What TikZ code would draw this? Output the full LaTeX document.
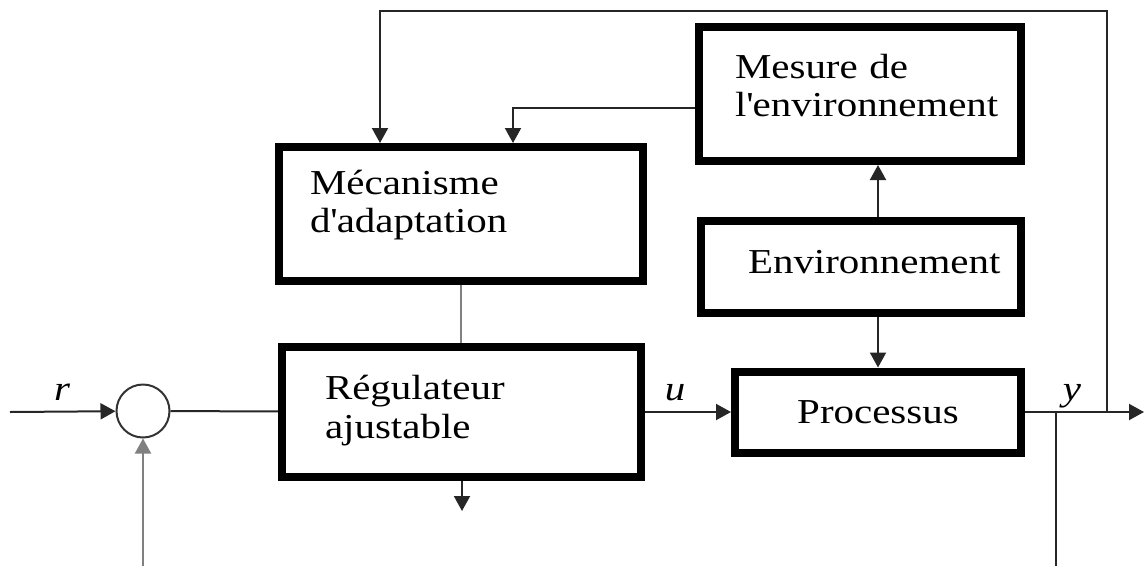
\documentclass[tikz,border=0pt]{standalone}
\usepackage{fontspec}
\setmainfont{Liberation Serif}[FakeStretch=1.17]
\usetikzlibrary{positioning,arrows.meta}
\tikzset {
    style block/.style={
        draw=black,
        line width=8pt,
        rectangle, % Set the shape as a rectangle
        align=left,
    },
    style sum/.style={
        draw=black!80,
        line width=2pt,
        circle, % Set the shape as a circle
        minimum size=53pt,
        inner sep=0pt,
    },
    style signal/.style={
        draw=black!85,
        line width=2pt,
    },
    style arrow/.style={
        style signal,
        -{Triangle[width=16pt,length=15pt]},
    },
    style label/.style={
        font=\fontsize{35}{37}\selectfont\itshape,
        anchor=base,
        inner sep=0pt,
    },
}
\begin{document}
\begin{tikzpicture}
        [x=1pt, y=-1pt, font=\fontsize{35}{37}\selectfont]
        \useasboundingbox (0,0) rectangle (1144,566);

        % blocks
        \node[style block, minimum width=364pt, minimum height=134pt, text width=302pt, inner xsep=31pt, text depth=63pt] (mec) at (461,214) {Mécanisme\\[1pt]d\textquotesingle adaptation};
        \node[style block, minimum width=322pt, minimum height=134pt, text width=250pt, inner xsep=36pt, text depth=56pt] (mes) at (860,94) {Mesure de\\[1pt]l\textquotesingle environnement};
        \node[style block, minimum width=320pt, minimum height=92pt, text width=226pt, inner xsep=47pt, text depth=10pt] (env) at (861,267) {Environnement};
        \node[style block, minimum width=359pt, minimum height=130pt, text width=273pt, inner xsep=43pt, text depth=49pt] (reg) at (461.5,412) {Régulateur\\[2pt]ajustable};
        \node[style block, minimum width=286pt, minimum height=81pt] (proc) at (878,412) {Processus};
        \node[style sum] (sum) at (143,411) {};

        % signals
        \node[style label] (r) at (62,400) {r};
        \node[style label] (u) at (675,400) {u};
        \node[style label] (y) at (1072,400) {y};

        \coordinate (in)   at (10,412);
        \coordinate (out)  at (1144,412);
        \coordinate (ybr)  at (1056,412);
        \coordinate (yup)  at (1107,412);
        \coordinate (tr)   at (1107,11);
        \coordinate (tl)   at (380,11);
        \coordinate (ml)   at (513,108);
        \coordinate (dn)   at (462,511);
        \coordinate (fbl)  at (143,566);
        \coordinate (fbr)  at (1056,566);

        \draw[style arrow] (in) -- (sum);
        \draw[style signal] (sum) -- (reg);
        \draw[style arrow] (reg) -- (proc);
        \draw[style arrow] (proc) -- (out);
        \draw[style signal] (ybr) -- (fbr);
        \draw[style arrow, draw=gray] (fbl) -- (sum);
        \draw[style arrow] (yup) -- (tr) -- (tl) -- (tl |- mec.north);
        \draw[style arrow] (mes.west |- ml) -- (ml) -- (ml |- mec.north);
        \draw[style arrow] (env.north -| proc) -- (mes.south -| proc);
        \draw[style arrow] (env.south -| proc) -- (proc);
        \draw[style signal, draw=gray] (mec.south) -- (mec.south |- reg.north);
        \draw[style arrow] (reg.south -| dn) -- (dn);
\end{tikzpicture}
\end{document}
